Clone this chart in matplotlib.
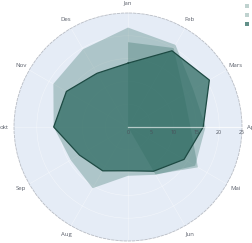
import matplotlib.pyplot as plt
import numpy as np
from matplotlib.patches import Patch
from matplotlib.transforms import ScaledTranslation

plt.rcParams['font.family'] = ['Open Sans', 'DejaVu Sans']

months = ['Jan', 'Feb', 'Mars', 'Apr', 'Mai', 'Jun', 'Jul', 'Aug', 'Sep', 'okt', 'Nov', 'Des']
series_names = ['2021', '2022', '2023']
values_1 = [21.8, 20.8, 16.5, 17.0, 17.0, 12.1, 10.7, 15.5, 14.5, 16.3, 18.9, 19.7]
values_2 = [18.6, 20.0, 14.2, 13.7, 17.7, 12.0, 0, 0, 0, 0, 0, 0]
values_3 = [14.0, 19.3, 20.6, 16.5, 14.2, 11.2, 9.6, 11.1, 12.3, 16.3, 15.6, 13.6]
r_ticks = [0, 5, 10, 15, 20, 25]

teal = '#2e6b62'

fig = plt.figure(figsize=(2.53, 2.43), dpi=100)
ax = fig.add_axes([14 / 253, 2 / 243, 228 / 253, 228 / 243], projection='polar')
ax.set_theta_zero_location('N')
ax.set_theta_direction(-1)
ax.set_facecolor('#E5ECF6')
ax.set_ylim(0, 25)

theta = np.deg2rad(np.arange(len(months)) * 30)
ax.set_xticks(theta)
ax.set_xticklabels(months, fontsize=4.3, color='#5a5f6a')
ax.tick_params(axis='x', pad=-3.5)
ax.set_yticks(r_ticks[1:-1])
ax.set_yticklabels([])
ax.grid(color='white', lw=0.4, alpha=0.5)
ax.spines['polar'].set_color('#b8bcc4')
ax.spines['polar'].set_linestyle((0, (3, 2)))
ax.spines['polar'].set_linewidth(0.6)

closed = np.append(theta, theta[0])
styles = [(values_1, 0.3, 0), (values_2, 0.3, 0), (values_3, 0.75, 0.9)]
handles = []
for (vals, alpha, lw), name in zip(styles, series_names):
    r = np.append(vals, vals[0])
    ax.fill(closed, r, color=teal, alpha=alpha, lw=0, zorder=2)
    if lw > 0:
        ax.plot(closed, r, color='#1d4a43', lw=lw, zorder=3)
    handles.append(Patch(facecolor=teal, alpha=alpha, edgecolor='none', label=name))

# radial axis sits at the Apr direction and is drawn above the traces
radial_angle = np.deg2rad(90)
ax.plot([radial_angle, radial_angle], [0, 25], color='white', lw=0.9, alpha=0.6, zorder=5)
offset = ax.transData + ScaledTranslation(0, -2.5 / 72, fig.dpi_scale_trans)
for t in r_ticks:
    ax.text(radial_angle, t, str(t), transform=offset, ha='center', va='top',
            fontsize=3.8, color='#4a4f5a', zorder=6, clip_on=False)

fig.legend(handles=handles, loc='upper left', bbox_to_anchor=(245 / 253, 1 - 4 / 243),
           frameon=False, fontsize=4.3, handlelength=0.6, handleheight=0.6,
           labelspacing=0.7, borderaxespad=0, borderpad=0)

fig.savefig('out.png', dpi=100)
